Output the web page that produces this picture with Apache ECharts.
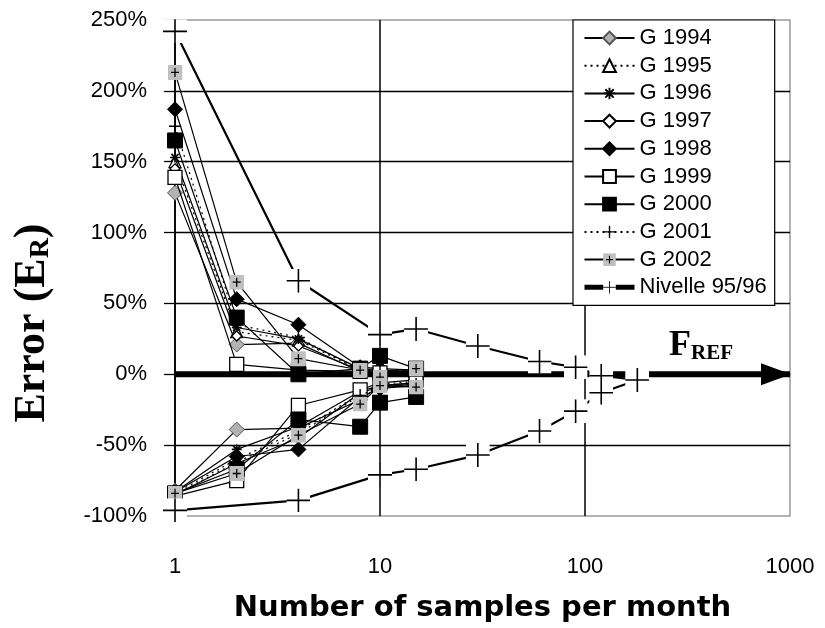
<!DOCTYPE html>
<html><head><meta charset="utf-8">
<script src="https://cdn.jsdelivr.net/npm/echarts@6/dist/echarts.min.js"></script>
<style>html,body{margin:0;padding:0;background:#fff}#c{width:825px;height:628px}</style>
</head><body><div id="c"></div>
<script>
// ---- data ----
const samples = [1, 2, 4, 8, 10, 15];
const g1994Hi = [128, 21, 22, 2, 1, 2];
const g1994Lo = [-82, -39, -38, -18, -8, -6];
const g1995Hi = [150, 30, 24, 3, 2, 3];
const g1995Lo = [-84, -60, -40, -14, -7, -5];
const g1996Hi = [153, 33, 25, 4, 3, 2];
const g1996Lo = [-83, -53, -37, -12, -8, -6];
const g1997Hi = [145, 27, 20, 3, 2, 1];
const g1997Lo = [-85, -63, -45, -13, -9, -7];
const g1998Hi = [187, 53, 35, 5, 4, 3];
const g1998Lo = [-83, -58, -53, -16, -10, -8];
const g1999Hi = [139, 7, 3, 2, 1, 0];
const g1999Lo = [-86, -75, -22, -11, -6, -4];
const g2000Hi = [165, 40, 0, 4, 13, 4];
const g2000Lo = [-84, -67, -32, -37, -20, -16];
const g2001Hi = [175, 35, 26, 3, 2, 3];
const g2001Lo = [-85, -62, -42, -15, -9, -7];
const g2002Hi = [213, 65, 11, 3, -2, 4];
const g2002Lo = [-84, -70, -43, -21, -8, -9];
const nivelleX = [1, 4, 10, 15, 30, 60, 90, 120, 180];
const nivelleHi = [242, 66, 28, 32, 20, 9, 5, -1, -4];
const nivelleLo = [-96, -89, -71, -67, -57, -40, -26, -13, -4];
const frefX = [1, 1000];
const frefY = 0;
const yMin = -100, yMax = 250, yStep = 50;
const xMin = 1, xMax = 1000;
const seriesNames = ['G 1994','G 1995','G 1996','G 1997','G 1998','G 1999','G 2000','G 2001','G 2002','Nivelle 95/96'];
const gHi = [g1994Hi,g1995Hi,g1996Hi,g1997Hi,g1998Hi,g1999Hi,g2000Hi,g2001Hi,g2002Hi];
const gLo = [g1994Lo,g1995Lo,g1996Lo,g1997Lo,g1998Lo,g1999Lo,g2000Lo,g2001Lo,g2002Lo];

// ---- styles ----
function svgSym(s){ return 'image://data:image/svg+xml;charset=utf-8,' + encodeURIComponent(s); }
const starSym = svgSym('<svg xmlns="http://www.w3.org/2000/svg" width="20" height="20"><path d="M10 1V19M1 10H19M3.5 3.5L16.5 16.5M16.5 3.5L3.5 16.5" stroke="#000" stroke-width="3" fill="none"/></svg>');
const plusSym = svgSym('<svg xmlns="http://www.w3.org/2000/svg" width="20" height="20"><path d="M10 0V20M0 10H20" stroke="#000" stroke-width="2.2" fill="none"/></svg>');
const grayPlusSym = svgSym('<svg xmlns="http://www.w3.org/2000/svg" width="30" height="30"><rect width="30" height="30" fill="#c0c0c0"/><path d="M15 6V24M7 15H23" stroke="#000" stroke-width="2.6" fill="none"/></svg>');
const nivSym = svgSym('<svg xmlns="http://www.w3.org/2000/svg" width="48" height="48"><rect width="48" height="48" fill="#fff"/><path d="M24 0V48M0 24H48" stroke="#000" stroke-width="3.2" fill="none"/></svg>');
const dotted = [2, 4];
const gStyles = [
  {symbol:'diamond', size:15, fill:'#b2b2b2', border:'#555', bw:1, line:'solid'},
  {symbol:'triangle', size:12, fill:'#fff', border:'#000', bw:1.2, line:dotted},
  {symbol:starSym, size:11, fill:'#000', border:'#000', bw:0, line:'solid'},
  {symbol:'diamond', size:10, fill:'#fff', border:'#000', bw:1.3, line:'solid'},
  {symbol:'diamond', size:15, fill:'#000', border:'#000', bw:1, line:'solid'},
  {symbol:'rect', size:14, fill:'#fff', border:'#000', bw:1.3, line:'solid'},
  {symbol:'rect', size:15, fill:'#000', border:'#000', bw:1, line:'solid'},
  {symbol:plusSym, size:13, fill:'#000', border:'#000', bw:0, line:dotted},
  {symbol:grayPlusSym, size:15, fill:'#c0c0c0', border:'#c0c0c0', bw:0, line:'solid'}
];

const series = [];
// reference arrow (F_REF)
series.push({
  type:'line', name:'FREF', data: frefX.map(x => [x, frefY]), symbol:'none', z:1, silent:true,
  lineStyle:{color:'#000', width:6}, clip:false,
  markPoint:{ silent:true, symbol:'triangle', symbolSize:[22,30], symbolRotate:-90, symbolOffset:[-14,0],
    itemStyle:{color:'#000'}, label:{show:false}, data:[{coord:[frefX[1], frefY]}] }
});
for (let k = 0; k < 9; k++) {
  const st = gStyles[k];
  [gHi[k], gLo[k]].forEach(arr => {
    series.push({
      type:'line', name: seriesNames[k], z: 2 + k * 0.01,
      data: samples.map((x, i) => [x, arr[i]]),
      symbol: st.symbol, symbolSize: st.size, showAllSymbol:true,
      lineStyle:{color:'#000', width:1.2, type: st.line},
      itemStyle:{color: st.fill, borderColor: st.border, borderWidth: st.bw, opacity:1}
    });
  });
}
[nivelleHi, nivelleLo].forEach(arr => {
  series.push({
    type:'line', name: seriesNames[9], z: 3,
    data: nivelleX.map((x, i) => [x, arr[i]]),
    symbol: nivSym, symbolSize: 24, showAllSymbol:true,
    lineStyle:{color:'#000', width:2.2, type:'solid'},
    itemStyle:{color:'#000'}
  });
});

const legendData = seriesNames.map((n, i) => i === 9
  ? {name:n, lineStyle:{width:5, type:'solid', color:'#000'}}
  : {name:n});

const serif = '"Liberation Serif", "Times New Roman", serif';
const sans = '"Liberation Sans", Arial, sans-serif';
const chart = echarts.init(document.getElementById('c'), null, {renderer:'canvas'});
chart.setOption({
  animation:false,
  backgroundColor:'#fff',
  grid:{left:175, right:35, top:20, bottom:110, show:true, borderColor:'#9a9a9a', borderWidth:1.5, backgroundColor:'transparent'},
  xAxis:{
    type:'log', logBase:10, min:xMin, max:xMax,
    axisLine:{show:false}, axisTick:{show:false},
    axisLabel:{fontSize:22, fontFamily:sans, color:'#000', margin:40, formatter: v => String(Math.round(v))},
    splitLine:{show:true, showMaxLine:false, lineStyle:{color:'#000', width:1.5}},
    minorSplitLine:{show:false},
    name:'Number of samples per month', nameLocation:'middle', nameGap:78,
    nameTextStyle:{fontSize:29, fontWeight:'bold', fontFamily:'"DejaVu Sans", sans-serif', color:'#000'}
  },
  yAxis:{
    type:'value', min:yMin, max:yMax, interval:yStep,
    axisLine:{show:true, lineStyle:{color:'#000', width:1.5}},
    axisTick:{show:true, inside:false, length:11, lineStyle:{color:'#000', width:1.3}},
    axisLabel:{fontSize:22, fontFamily:sans, color:'#000', margin:28, formatter: v => v + '%'},
    splitLine:{show:true, showMinLine:false, showMaxLine:false, lineStyle:{color:'#000', width:1.3}}
  },
  legend:{
    orient:'vertical', left:573, top:20, data: legendData, selectedMode:false,
    itemWidth:50, itemHeight:16, itemGap:5.7, padding:[7,8,7,9],
    backgroundColor:'#fff', borderColor:'#000', borderWidth:1.2, borderRadius:0,
    textStyle:{fontSize:22, fontFamily:sans, color:'#000', lineHeight:22}
  },
  graphic:[
    {type:'text', x:33, y:323, rotation:Math.PI/2, z:10,
     style:{text:'{a|Error (E}{b|R}{a|)}', align:'center', verticalAlign:'middle',
       rich:{a:{fontSize:44, fontWeight:'bold', fontFamily:serif, fill:'#000'},
             b:{fontSize:28, fontWeight:'bold', fontFamily:serif, fill:'#000', verticalAlign:'bottom'}}}},
    {type:'text', x:669, y:346, z:10,
     style:{text:'{f|F}{r|REF}', align:'left', verticalAlign:'middle',
       rich:{f:{fontSize:36, fontWeight:'bold', fontFamily:serif, fill:'#000'},
             r:{fontSize:21, fontWeight:'bold', fontFamily:serif, fill:'#000', verticalAlign:'bottom'}}}}
  ],
  series: series
});
</script>
</body></html>
